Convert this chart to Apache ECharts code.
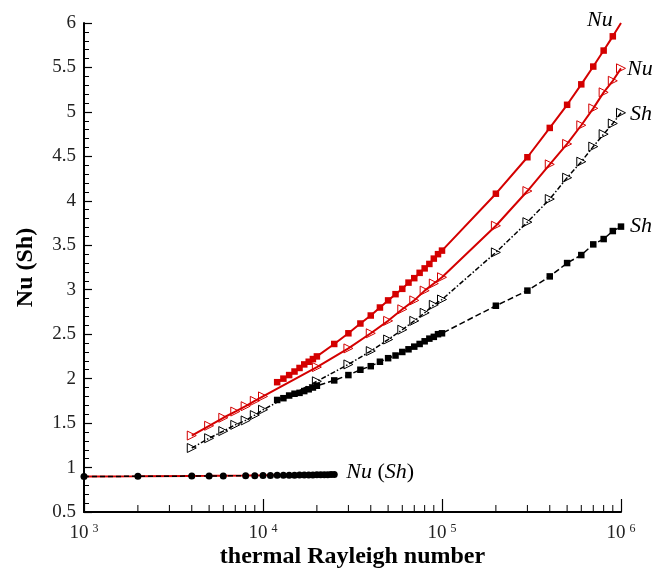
<!DOCTYPE html>
<html>
  <head>
    <meta charset="utf-8" />
    <title>Nu (Sh) vs thermal Rayleigh number</title>
    <script src="https://cdn.jsdelivr.net/npm/echarts@6/dist/echarts.min.js"></script>
  </head>
  <body style="margin:0">
    <div id="chart" style="width: 664px; height: 570px"></div>

    <script type="text/javascript">
// Rayleigh numbers
const ra_fine = [12000, 13000, 14000, 15000, 16000, 17000, 18000, 19000, 20000,
  25000, 30000, 35000, 40000, 45000, 50000, 55000, 60000, 65000, 70000, 75000,
  80000, 85000, 90000, 95000, 100000,
  200000, 300000, 400000, 500000, 600000, 700000, 800000, 900000, 1000000];
const ra_coarse = [4000, 5000, 6000, 7000, 8000, 9000, 10000, 20000, 30000, 40000,
  50000, 60000, 70000, 80000, 90000, 100000,
  200000, 300000, 400000, 500000, 600000, 700000, 800000, 900000, 1000000];
const ra_low = [1000, 2000, 4000, 5000, 6000, 8000, 9000, 10000, 11000, 12000, 13000,
  14000, 15000, 16000, 17000, 18000, 19000, 20000, 21000, 22000, 23000, 24000, 25000];

// Nu, filled squares (red)
const nu_squares = [1.96, 2.00, 2.04, 2.08, 2.12, 2.16, 2.19, 2.22, 2.25,
  2.39, 2.51, 2.62, 2.71, 2.80, 2.88, 2.95, 3.01, 3.08, 3.13, 3.19,
  3.24, 3.29, 3.35, 3.40, 3.44,
  4.08, 4.49, 4.82, 5.08, 5.31, 5.51, 5.69, 5.85, 6.00];
// Sh, filled squares (black)
const sh_squares = [1.76, 1.78, 1.81, 1.83, 1.84, 1.86, 1.88, 1.90, 1.92,
  1.98, 2.04, 2.10, 2.14, 2.19, 2.23, 2.26, 2.30, 2.33, 2.36, 2.39,
  2.42, 2.45, 2.47, 2.50, 2.51,
  2.82, 2.99, 3.15, 3.30, 3.39, 3.51, 3.57, 3.66, 3.71];
// Nu, open triangles (red)
const nu_triangles = [1.36, 1.47, 1.56, 1.63, 1.69, 1.75, 1.80, 2.13, 2.34, 2.51,
  2.65, 2.78, 2.88, 2.99, 3.07, 3.14,
  3.72, 4.11, 4.41, 4.64, 4.85, 5.04, 5.22, 5.35, 5.49];
// Sh, open triangles (black)
const sh_triangles = [1.22, 1.33, 1.41, 1.48, 1.53, 1.59, 1.65, 1.97, 2.16, 2.31,
  2.44, 2.55, 2.65, 2.74, 2.83, 2.89,
  3.42, 3.76, 4.02, 4.26, 4.44, 4.61, 4.75, 4.87, 4.99];
// low range Nu (Sh)
const nu_low = [0.900, 0.902, 0.906, 0.907, 0.908, 0.910, 0.911, 0.912, 0.913, 0.914, 0.915,
  0.916, 0.917, 0.918, 0.919, 0.920, 0.921, 0.922, 0.923, 0.924, 0.925, 0.927, 0.930];
const sh_low = [0.900, 0.901, 0.904, 0.905, 0.906, 0.908, 0.909, 0.910, 0.911, 0.912, 0.913,
  0.914, 0.914, 0.915, 0.916, 0.916, 0.917, 0.918, 0.918, 0.919, 0.920, 0.921, 0.922];

// minor ticks on the log axis
const x_minor_ticks = [2000, 3000, 4000, 5000, 6000, 7000, 8000, 9000,
  20000, 30000, 40000, 50000, 60000, 70000, 80000, 90000,
  200000, 300000, 400000, 500000, 600000, 700000, 800000, 900000];

const red = '#d40000';
const serif = 'Liberation Serif';

function pairs(xs, ys) {
  return xs.map((x, i) => [x, ys[i]]);
}

const labelRich = {
  i: { fontFamily: serif, fontStyle: 'italic', fontSize: 22, color: '#000' },
  n: { fontFamily: serif, fontSize: 22, color: '#000' }
};

function endLabel(text, offset) {
  return {
    show: true,
    formatter: text,
    offset: offset,
    distance: 4,
    rich: labelRich
  };
}

// last red square point drawn without a marker
const nu_square_data = pairs(ra_fine, nu_squares);
nu_square_data[nu_square_data.length - 1] = {
  value: nu_square_data[nu_square_data.length - 1],
  symbol: 'none'
};

const chart = echarts.init(document.getElementById('chart'));

chart.setOption({
  animation: false,
  grid: { left: 84, right: 43, top: 23, bottom: 58, containLabel: false, outerBoundsMode: 'none' },
  xAxis: {
    type: 'log',
    logBase: 10,
    min: 1000,
    max: 1000000,
    name: 'thermal Rayleigh number',
    nameLocation: 'middle',
    nameGap: 33,
    nameMoveOverlap: false,
    nameTextStyle: { fontFamily: serif, fontWeight: 'bold', fontSize: 24, color: '#000' },
    axisLine: { lineStyle: { color: '#000', width: 2 } },
    axisTick: { inside: true, length: 13, lineStyle: { color: '#000', width: 1.2 } },
    splitLine: { show: false },
    axisLabel: {
      margin: 11,
      formatter: function (v) {
        return '{b|10}{s|' + Math.round(Math.log10(v)) + '}';
      },
      rich: {
        b: { fontFamily: serif, fontSize: 19, lineHeight: 20, color: '#222' },
        s: { fontFamily: serif, fontSize: 12, lineHeight: 12, verticalAlign: 'top', color: '#222', padding: [0, 0, 4, 4] }
      }
    }
  },
  yAxis: {
    type: 'value',
    min: 0.5,
    max: 6,
    interval: 0.5,
    name: 'Nu (Sh)',
    nameLocation: 'middle',
    nameGap: 46,
    nameTextStyle: { fontFamily: serif, fontWeight: 'bold', fontSize: 24, color: '#000' },
    axisLine: { show: true, lineStyle: { color: '#000', width: 2 } },
    axisTick: { show: true, inside: true, length: 8, lineStyle: { color: '#000', width: 1.2 } },
    minorTick: { show: true, splitNumber: 5, length: 5, lineStyle: { color: '#000', width: 1 } },
    splitLine: { show: false },
    axisLabel: {
      margin: 8,
      fontFamily: serif,
      fontSize: 19,
      color: '#222',
      formatter: function (v) { return String(v); }
    }
  },
  series: [
    {
      name: 'x minor ticks',
      type: 'custom',
      silent: true,
      clip: false,
      data: x_minor_ticks.map((v) => [v, 0.5]),
      renderItem: function (params, api) {
        const p = api.coord([api.value(0), api.value(1)]);
        return {
          type: 'line',
          shape: { x1: p[0], y1: p[1], x2: p[0], y2: p[1] - 7 },
          style: { stroke: '#000', lineWidth: 1 }
        };
      },
      z: 1
    },
    {
      name: 'Nu low',
      type: 'line',
      data: pairs(ra_low, nu_low),
      symbol: 'none',
      lineStyle: { color: red, width: 2 },
      z: 2
    },
    {
      name: 'Sh low',
      type: 'line',
      data: pairs(ra_low, sh_low),
      symbol: 'circle',
      symbolSize: 7,
      itemStyle: { color: '#000' },
      lineStyle: { color: '#000', width: 1.5, type: [5, 3] },
      endLabel: endLabel('{i|Nu}{n| (}{i|Sh}{n|)}', [8, -2]),
      z: 3
    },
    {
      name: 'Sh squares',
      type: 'line',
      data: pairs(ra_fine, sh_squares),
      symbol: 'rect',
      symbolSize: 6.5,
      itemStyle: { color: '#000' },
      lineStyle: { color: '#000', width: 1.5, type: [6, 3] },
      endLabel: endLabel('{i|Sh}', [5, 0]),
      z: 3
    },
    {
      name: 'Sh triangles',
      type: 'line',
      data: pairs(ra_coarse, sh_triangles),
      symbol: 'triangle',
      symbolRotate: -90,
      symbolSize: 9,
      itemStyle: { color: 'rgba(255,255,255,0)', borderColor: '#000', borderWidth: 1 },
      lineStyle: { color: '#000', width: 1.5, type: [5, 2, 1.5, 2] },
      endLabel: endLabel('{i|Sh}', [5, 1]),
      z: 3
    },
    {
      name: 'Nu triangles',
      type: 'line',
      data: pairs(ra_coarse, nu_triangles),
      symbol: 'triangle',
      symbolRotate: -90,
      symbolSize: 9,
      itemStyle: { color: 'rgba(255,255,255,0)', borderColor: red, borderWidth: 1 },
      lineStyle: { color: red, width: 2 },
      endLabel: endLabel('{i|Nu}', [2, 1]),
      z: 4
    },
    {
      name: 'Nu squares',
      type: 'line',
      data: nu_square_data,
      symbol: 'rect',
      symbolSize: 6.5,
      itemStyle: { color: red },
      lineStyle: { color: red, width: 2 },
      endLabel: endLabel('{i|Nu}', [-38, -3]),
      z: 4
    }
  ]
});
    </script>
  </body>
</html>
